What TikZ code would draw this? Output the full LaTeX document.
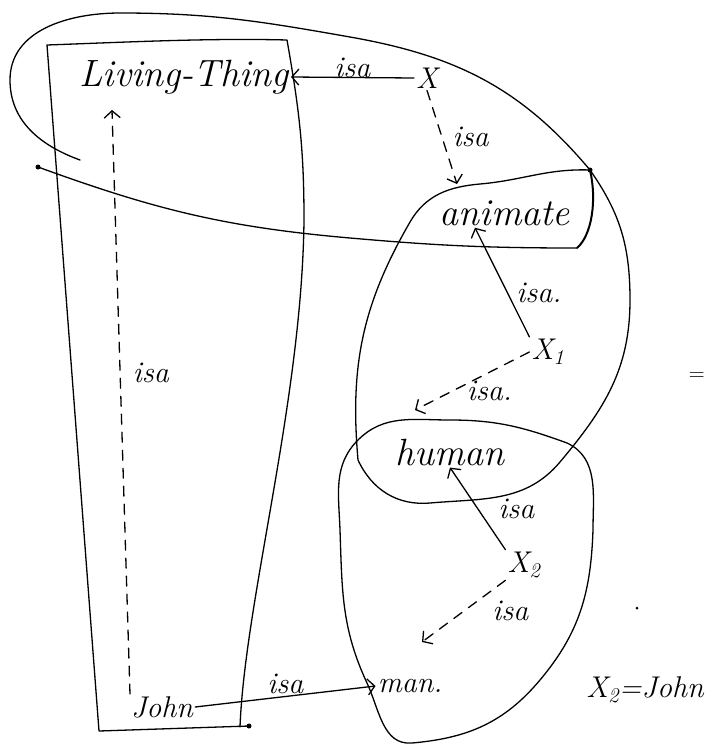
\documentclass[tikz,border=0pt]{standalone}
\usetikzlibrary{arrows.meta}
\begin{document}
\begin{tikzpicture}[x=1pt,y=-1pt,
  txt/.style={font=\fontsize{30}{32}\selectfont\itshape, inner sep=2pt},
  bigtxt/.style={font=\fontsize{38}{40}\selectfont\itshape, inner sep=2pt},
  pen/.style={line width=1.3pt, line cap=round, line join=round},
  tip/.style={-{Straight Barb[length=7pt,width=16pt]}},
  solidisa/.style={pen, tip},
  dashisa/.style={pen, tip, dash pattern=on 10pt off 8pt},
  blob/.style={circle, fill, inner sep=0pt, minimum size=5pt},
]
\useasboundingbox (0,0) rectangle (705,747);

% ---------- nodes ----------
\node[bigtxt, anchor=east] (lt) at (291,77) {Living-Thing};
\node[txt] (X) at (427,78) {X};
\node[bigtxt] (an) at (505,213) {animate};
\node[txt] (x1) at (548,352) {X\textsubscript{1}};
\node[bigtxt] (hu) at (450,452) {human};
\node[txt] (x2) at (524,565) {X\textsubscript{2}};
\node[txt] (man) at (410,686) {man.};
\node[txt] (john) at (162,707) {John};
\node[txt] (eq) at (645,690) {X\textsubscript{2}=John};
\node[font=\fontsize{22}{24}\selectfont, inner sep=0pt, anchor=east] (stray) at (705,377) {=};
\coordinate (ltin) at (112,110);
\coordinate (anin) at (457,184);
\coordinate (huin) at (415,410);
\coordinate (manin) at (422,642);

% ---------- rectangle ----------
\draw[pen] (249,726) -- (99,731) -- (47,45)
  .. controls (130,42) and (210,38) .. (287,40)
  to[out=-80,in=90] (304,220)
  .. controls (302,400) and (245,600) .. (240,727);

% ---------- big loop (Living-Thing + animate) ----------
\draw[pen] (80,160) to[out=160,in=-90] (10,80) to[out=90,in=180] (120,13)
  to[out=0,in=170] (350,37) to[out=-10,in=130] (590,170);
\draw[pen, line width=2pt] (590,170) .. controls (597,200) and (592,235) .. (577,248);
\draw[pen] (577,248) to[out=180,in=-5] (350,238) to[out=175,in=-20] (38,167);

% ---------- middle loop (animate + human) ----------
\draw[pen] (590,170) to[out=-55,in=90] (630,300) to[out=-90,in=50] (560,462)
  to[out=230,in=5] (430,503) to[out=185,in=-65] (358,460)
  to[out=95,in=240] (410,222) to[out=60,in=185] (480,184)
  to[out=5,in=178] (590,170) -- cycle;

% ---------- lower loop (human + man) ----------
\draw[pen] (450,420) to[out=0,in=160] (567,443) to[out=-25,in=90] (593,530)
  to[out=-92,in=50] (540,680) to[out=230,in=5] (412,743)
  to[out=185,in=-65] (367,683) to[out=115,in=-88] (340,530)
  to[out=92,in=225] (358,440) to[out=45,in=180] (450,420) -- cycle;

% ---------- pen blobs ----------
\node[blob] (d1) at (38,167) {};
\node[blob] (d2) at (590,170) {};
\node[blob] (d3) at (249,726) {};
\node[blob, minimum size=3pt] (d4) at (637,608) {};

% ---------- isa links ----------
\draw[solidisa] (X.west) -- (lt.east) node[midway, above=-3pt, txt] {isa};
\draw[dashisa] (X.south) -- (anin) node[pos=0.5, right=8pt, txt] {isa};
\draw[solidisa] (x1.north west) -- (an.south west -| 475,0) node[pos=0.4, right=6pt, txt] {isa.};
\draw[dashisa] (x1.west) -- (huin) node[pos=0.35, below=6pt, txt] {isa.};
\draw[solidisa] (x2.north west) -- (hu.south) node[pos=0.5, right=18pt, txt] {isa};
\draw[dashisa] (x2.south west) -- (manin) node[pos=0.5, right=26pt, txt] {isa};
\draw[solidisa] (john.east) -- (man.west) node[midway, above, txt] {isa};
\draw[dashisa] ([xshift=-32pt]john.north) -- (ltin) node[pos=0.55, right=10pt, txt] {isa};
\end{tikzpicture}
\end{document}
